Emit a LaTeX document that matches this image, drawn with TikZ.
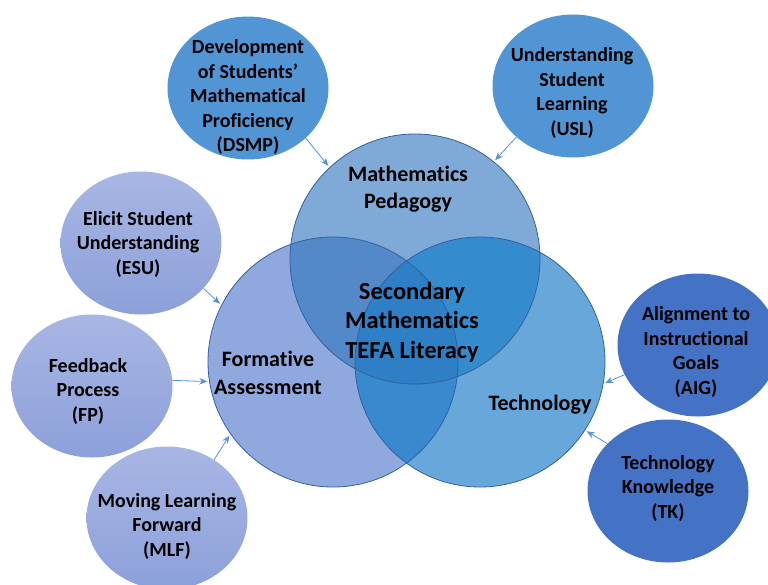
\documentclass[tikz,border=0pt]{standalone}
\usepackage{fontspec}
\setmainfont{Carlito}[Ligatures=NoCommon]
\usetikzlibrary{shapes.geometric,arrows.meta}
\definecolor{mpC}{RGB}{127,170,215}
\definecolor{faC}{RGB}{143,168,222}
\definecolor{teC}{RGB}{103,167,218}
\definecolor{mpfaC}{RGB}{84,137,201}
\definecolor{mpteC}{RGB}{52,140,206}
\definecolor{fateC}{RGB}{56,137,205}
\definecolor{allC}{RGB}{46,127,197}
\definecolor{edgeC}{RGB}{52,96,160}
\definecolor{midblue}{RGB}{82,149,212}
\definecolor{lavtop}{RGB}{168,182,228}
\definecolor{lavbot}{RGB}{140,160,217}
\definecolor{royal}{RGB}{68,114,196}
\definecolor{arrowC}{RGB}{88,146,212}
\begin{document}
\begin{tikzpicture}[x=1pt,y=-1pt,
  smallell/.style={ellipse,minimum width=161pt,minimum height=143pt,inner sep=0pt},
  bigc/.style={circle,minimum size=250pt,inner sep=0pt},
  lbl/.style={align=center,text=black,font=\bfseries\fontsize{20}{24.5}\selectfont,inner sep=0pt},
  biglbl/.style={align=center,text=black,font=\bfseries\fontsize{22}{27.5}\selectfont,inner sep=0pt},
  ctrlbl/.style={align=center,text=black,font=\bfseries\fontsize{24.5}{29.5}\selectfont,inner sep=0pt},
  conn/.style={draw=arrowC,line width=0.8pt,-{Stealth[length=8pt,width=6.5pt]},shorten >=2pt}]
\useasboundingbox (0,0) rectangle (768,584);
\fill[white] (0,0) rectangle (768,584);
% small ellipses
\node[smallell,fill=midblue] (dsmp) at (248,88) {};
\node[smallell,fill=midblue] (usl) at (573,86) {};
\node[smallell,top color=lavtop,bottom color=lavbot] (esu) at (141,243) {};
\node[smallell,top color=lavtop,bottom color=lavbot] (fp) at (92,386) {};
\node[smallell,top color=lavtop,bottom color=lavbot] (mlf) at (167,518) {};
\node[smallell,fill=royal] (aig) at (698,345) {};
\node[smallell,fill=royal] (tk) at (668,491) {};
% big circles (anchors)
\coordinate (cmp) at (415,259);
\coordinate (cfa) at (333,362);
\coordinate (cte) at (480,362);
\node[bigc] (mp) at (cmp) {};
\node[bigc] (fa) at (cfa) {};
\node[bigc] (tech) at (cte) {};
\fill[mpC] (cmp) circle (125pt);
\fill[faC] (cfa) circle (125pt);
\fill[teC] (cte) circle (125pt);
\begin{scope}\clip (cmp) circle (125pt); \fill[mpfaC] (cfa) circle (125pt);\end{scope}
\begin{scope}\clip (cmp) circle (125pt); \fill[mpteC] (cte) circle (125pt);\end{scope}
\begin{scope}\clip (cfa) circle (125pt); \fill[fateC] (cte) circle (125pt);\end{scope}
\begin{scope}\clip (cmp) circle (125pt); \clip (cfa) circle (125pt); \fill[allC] (cte) circle (125pt);\end{scope}
\draw[edgeC,line width=0.8pt] (cmp) circle (125pt);
\draw[edgeC,line width=0.8pt] (cfa) circle (125pt);
\draw[edgeC,line width=0.8pt] (cte) circle (125pt);
% connectors
\draw[conn] (dsmp.-41) -- (mp.133);
\draw[conn] (usl.222) -- (mp.51);
\draw[conn] (esu.-36) -- (fa.153);
\draw[conn] (fp.4) -- (fa.189);
\draw[conn] (mlf.51) -- (fa.215);
\draw[conn] (aig.202) -- (tech.-10);
\draw[conn] (tk.142) -- (tech.-33);
% labels
\node[lbl] (tdsmp) at (248,97) {Development\\of Students’\\Mathematical\\Proficiency\\(DSMP)};
\node[lbl] (tusl) at (572,93) {Understanding\\Student\\Learning\\(USL)};
\node[lbl] (tesu) at (138,244) {Elicit Student\\Understanding\\(ESU)};
\node[lbl] (tfp) at (88,391) {Feedback\\Process\\(FP)};
\node[lbl] (tmlf) at (167,526) {Moving Learning\\Forward\\(MLF)};
\node[lbl] (taig) at (696,352) {Alignment to\\Instructional\\Goals\\(AIG)};
\node[lbl] (ttk) at (668,488) {Technology\\Knowledge\\(TK)};
\node[biglbl] (tmp) at (408,189) {Mathematics\\Pedagogy};
\node[biglbl] (tfa) at (268,373) {Formative\\Assessment};
\node[biglbl] (tte) at (540,405) {Technology};
\node[ctrlbl] (tctr) at (412,322) {Secondary\\Mathematics\\TEFA Literacy};
\end{tikzpicture}
\end{document}
